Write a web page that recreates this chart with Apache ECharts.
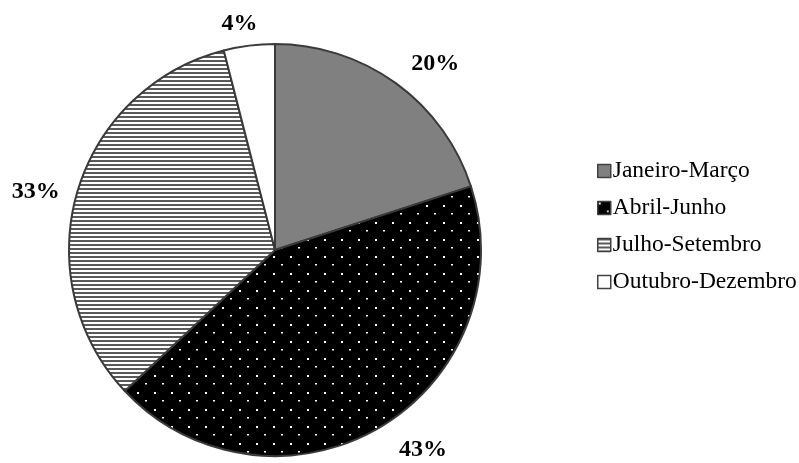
<!DOCTYPE html>
<html>
<head>
<meta charset="utf-8">
<script src="https://cdn.jsdelivr.net/npm/echarts@6/dist/echarts.min.js"></script>
<style>
html,body{margin:0;padding:0;background:#fff;}
#chart{width:799px;height:463px;}
</style>
</head>
<body>
<div id="chart"></div>
<script>
// Quarterly shares (percent)
const categories = ['Janeiro-Março', 'Abril-Junho', 'Julho-Setembro', 'Outubro-Dezembro'];
const values = [20, 43, 33, 4];

// Fill patterns for the slices
function dotPattern() {
  const c = document.createElement('canvas');
  c.width = 17; c.height = 17;
  const g = c.getContext('2d');
  g.fillStyle = '#000';
  g.fillRect(0, 0, 17, 17);
  g.fillStyle = '#fff';
  g.fillRect(1, 1, 2, 2);
  g.fillRect(9, 9, 2, 1.5);
  return c;
}
function stripePattern() {
  const c = document.createElement('canvas');
  c.width = 8; c.height = 4;
  const g = c.getContext('2d');
  g.fillStyle = '#fff';
  g.fillRect(0, 0, 8, 4);
  g.fillStyle = '#5a5a5a';
  g.fillRect(0, 0, 8, 2);
  return c;
}

const fills = [
  '#808080',
  { image: dotPattern(), repeat: 'repeat' },
  { image: stripePattern(), repeat: 'repeat' },
  '#ffffff'
];
// nudges for the outside percentage labels (best-fit placement)
const labelNudge = [[2, -8], [7, 15], [1, 3], [15, -8]];

const chart = echarts.init(document.getElementById('chart'), null, { renderer: 'canvas' });
chart.setOption({
  animation: false,
  backgroundColor: '#fff',
  legend: {
    orient: 'vertical',
    left: 592,
    top: 154,
    itemWidth: 13,
    itemHeight: 13,
    itemGap: 13,
    icon: 'rect',
    textStyle: { fontFamily: 'Liberation Serif', fontSize: 23.5, color: '#000', padding: [0, 0, 0, -3] },
    itemStyle: { borderColor: '#404040', borderWidth: 1.5 },
    data: categories
  },
  series: [{
    type: 'pie',
    center: [275, 250],
    radius: 206,
    startAngle: 90,
    clockwise: true,
    label: {
      show: true,
      position: 'outside',
      formatter: '{c}%',
      fontFamily: 'Liberation Serif',
      fontWeight: 'bold',
      fontSize: 24,
      color: '#000'
    },
    labelLine: { show: false, length: 14, length2: 0 },
    itemStyle: { borderColor: '#3a3a3a', borderWidth: 2 },
    emphasis: { disabled: true },
    data: categories.map((name, i) => ({
      name: name,
      value: values[i],
      itemStyle: { color: fills[i] },
      label: { offset: labelNudge[i] }
    }))
  }]
});
</script>
</body>
</html>
